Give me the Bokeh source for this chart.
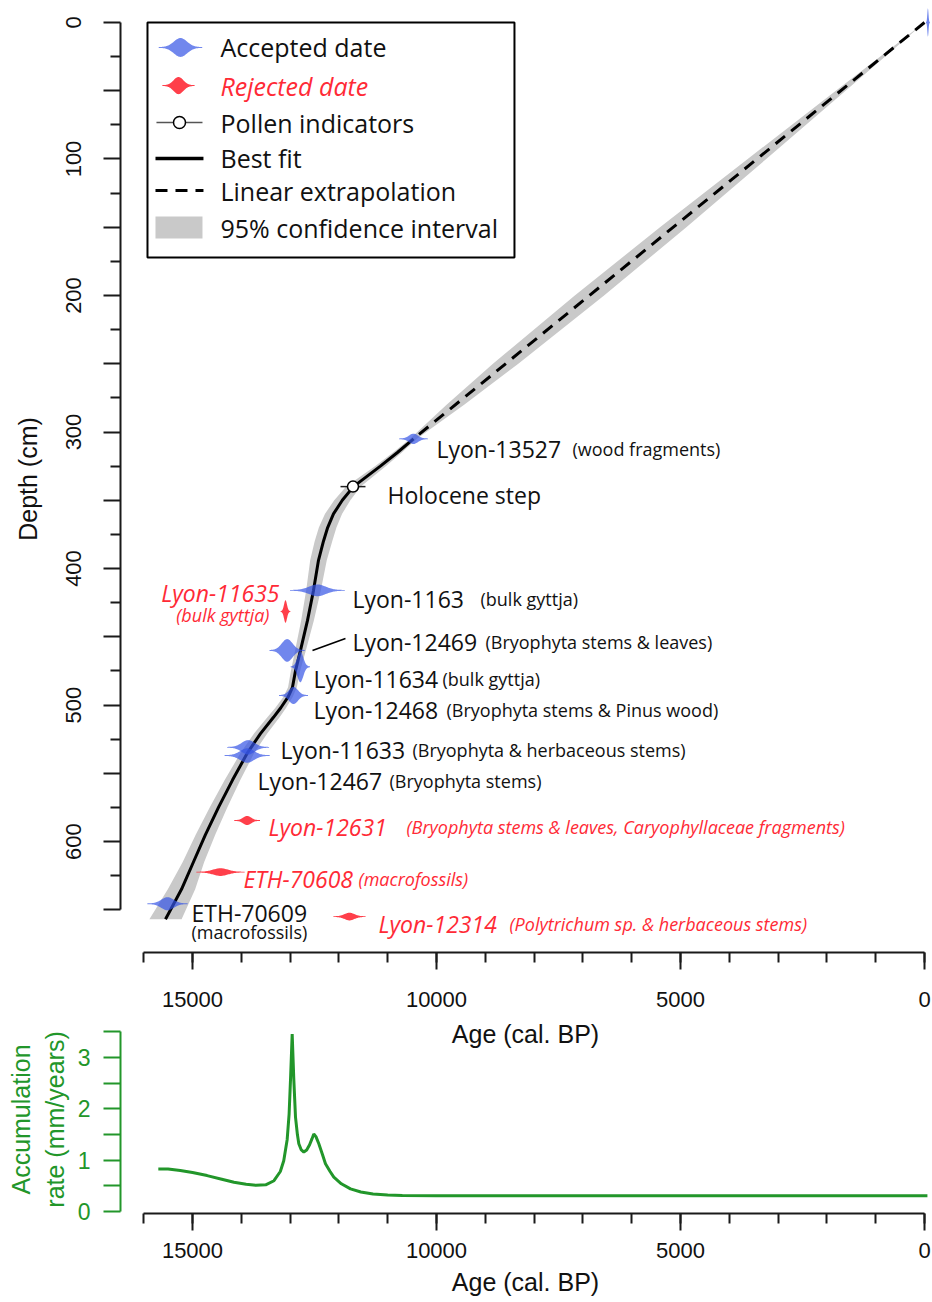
import numpy as np
from bokeh.plotting import figure
from bokeh.models import Range1d, FixedTicker, ColumnDataSource
from bokeh.layouts import column
from bokeh.embed import file_html
from bokeh.resources import INLINE
from bokeh.core.properties import value

# ---------------- data ----------------
age_ticks = [0, 5000, 10000, 15000]
age_minor_ticks = [0, 1000, 2000, 3000, 4000, 5000, 6000, 7000, 8000, 9000, 10000,
                   11000, 12000, 13000, 14000, 15000, 16000]
depth_ticks = [0, 50, 100, 150, 200, 250, 300, 350, 400, 450, 500, 550, 600, 650]
depth_minor_ticks = [25, 75, 125, 175, 225, 275, 325, 375, 425, 475, 525, 575, 625]
depth_tick_labels = ["0", "", "100", "", "200", "", "300", "", "400", "", "500", "", "600", ""]
rate_ticks = [0, 0.5, 1, 1.5, 2, 2.5, 3, 3.5]
rate_tick_labels = ["0", "", "1", "", "2", "", "3", ""]

# best fit (solid) and linear extrapolation (dashed)
fit_depth = [305, 315, 325, 340, 350, 360, 370, 380, 394, 416, 438, 460, 475, 487, 494,
             502, 509, 521, 535, 555, 575, 595, 615, 635, 657]
fit_age = [10471, 10800, 11150, 11701, 11930, 12111, 12230, 12316, 12418, 12520, 12643,
           12787, 12889, 12951, 13040, 13190, 13340, 13607, 13873, 14180, 14467, 14734,
           14980, 15225, 15553]
extrap_depth = [0, 305]
extrap_age = [0, 10471]

# 95% confidence interval
band_depth = [0, 50, 100, 150, 200, 250, 280, 305, 315, 325, 340, 350, 360, 370, 380, 394,
              416, 438, 460, 475, 487, 494, 502, 509, 521, 535, 555, 575, 595, 615, 635, 657]
band_age_lo = [0, 1617, 3243, 4880, 6566, 8323, 9433, 10401, 10710, 11040, 11551, 11765,
               11936, 12050, 12136, 12248, 12370, 12513, 12677, 12794, 12861, 12945, 13080,
               13215, 13472, 13733, 14020, 14287, 14534, 14760, 14945, 15223]
band_age_hi = [0, 1817, 3623, 5420, 7166, 8843, 9793, 10541, 10890, 11260, 11851, 12095,
               12286, 12410, 12496, 12588, 12670, 12773, 12897, 12984, 13041, 13135, 13300,
               13465, 13742, 14013, 14340, 14647, 14934, 15200, 15505, 15883]

# accepted radiocarbon dates (calibrated): depth (cm), age (cal BP), spread (yr)
acc_names = ["Surface", "Lyon-13527", "Lyon-1163", "Lyon-12469", "Lyon-11634",
             "Lyon-12468", "Lyon-11633", "Lyon-12467", "ETH-70609"]
acc_depth = [0, 305, 416, 460, 472, 493, 531, 537, 645.6]
acc_age = [-70, 10471, 12440, 13060, 12790, 12930, 13860, 13880, 15512]
acc_sd = [12, 90, 170, 110, 60, 90, 130, 140, 125]

# rejected dates
rej_names = ["Lyon-11635", "Lyon-12631", "ETH-70608", "Lyon-12314"]
rej_depth = [431.5, 584.6, 622.4, 655]
rej_age = [13094, 13880, 14426, 11783]
rej_sd = [30, 80, 150, 100]

# pollen indicator
pollen_name = ["Holocene step"]
pollen_depth = [340]
pollen_age = [11711]
pollen_err = [256]

# accumulation rate (mm/yr) vs age
acc_rate_age = [15700, 15500, 15250, 15000, 14700, 14400, 14150, 13900, 13700, 13500, 13330,
                13200, 13130, 13060, 13020, 12990, 12957, 12925, 12889, 12850, 12821, 12770,
                12719, 12660, 12600, 12550, 12514, 12470, 12411, 12340, 12275, 12180, 12104,
                11950, 11762, 11550, 11300, 11000, 10700, 10000, 8000, 5000, 2000, -60]
acc_rate = [0.83, 0.83, 0.80, 0.76, 0.70, 0.63, 0.57, 0.53, 0.51, 0.52, 0.60,
            0.78, 0.99, 1.40, 1.90, 2.60, 3.46, 2.60, 1.84, 1.50, 1.32, 1.20,
            1.16, 1.20, 1.30, 1.42, 1.51, 1.46, 1.32, 1.12, 0.93, 0.78, 0.67,
            0.54, 0.44, 0.38, 0.34, 0.32, 0.31, 0.305, 0.305, 0.305, 0.305, 0.305]

# label texts
acc_lab_name = ["Lyon-13527", "Lyon-1163", "Lyon-12469", "Lyon-11634", "Lyon-12468",
                "Lyon-11633", "Lyon-12467", "ETH-70609"]
acc_lab_mat = ["(wood fragments)", "(bulk gyttja)", "(Bryophyta stems & leaves)",
               "(bulk gyttja)", "(Bryophyta stems & Pinus wood)",
               "(Bryophyta & herbaceous stems)", "(Bryophyta stems)", "(macrofossils)"]
rej_lab_name = ["Lyon-11635", "Lyon-12631", "ETH-70608", "Lyon-12314"]
rej_lab_mat = ["(bulk gyttja)", "(Bryophyta stems & leaves, Caryophyllaceae fragments)",
               "(macrofossils)", "(Polytrichum sp. & herbaceous stems)"]
legend_labels = ["Accepted date", "Rejected date", "Pollen indicators", "Best fit",
                 "Linear extrapolation", "95% confidence interval"]

# ---------------- layout / style ----------------
BLUE = "#3454e6"
RED = "#ff2a36"
GREEN = "#22962a"
GREY = "#c9c9c9"
TXT = "Open Sans"
AX = "Liberation Sans"

acc_half_h = [10, 3.5, 4, 8, 11, 6, 5, 5, 4.5]   # glyph half-height (cm)
rej_half_h = [8, 3, 2.5, 2.5]

acc_name_pos = [(10000, 312.1), (11721, 422.0), (11721, 454.2), (12520, 481.3),
                (12520, 503.3), (13197, 533.3), (13668, 556.0), (15020, 652.0)]
acc_mat_pos = [(7213, 312.1), (9098, 422.0), (8996, 454.2), (9877, 481.3),
               (9795, 503.3), (10492, 533.3), (10963, 556.0), (15020, 666.5)]
rej_name_pos = [(13217, 418.3), (13443, 589.7), (13955, 627.8), (11189, 660.1)]
rej_mat_pos = [(13422, 433.7), (10615, 589.7), (11598, 627.8), (8504, 660.1)]
rej_align = ["right", "left", "left", "left"]
pollen_lab_pos = (11004, 346.5)
leader = ([12541, 11865], [460.1, 451.3])


def density_outline(a, d, sd, h):
    t = np.linspace(-3.3, 3.3, 61)
    f = np.exp(-0.5 * t * t)
    xa = a + t * sd
    xs = np.concatenate([xa, xa[::-1]])
    ys = np.concatenate([d - h * f - 0.3, (d + h * f + 0.3)[::-1]])
    return list(xs), list(ys)


def style_axis(ax, color="#1a1a1a"):
    ax.axis_line_color = color
    ax.axis_line_width = 2
    ax.major_tick_line_color = color
    ax.major_tick_line_width = 2
    ax.minor_tick_line_color = color
    ax.minor_tick_line_width = 2
    ax.major_tick_in = 0
    ax.minor_tick_in = 0
    ax.major_tick_out = 17
    ax.minor_tick_out = 10
    ax.major_label_text_font = AX
    ax.major_label_text_font_size = "22px"
    ax.major_label_text_color = "#111111" if color == "#1a1a1a" else color
    ax.axis_label_text_font = AX
    ax.axis_label_text_font_size = "25px"
    ax.axis_label_text_font_style = "normal"
    ax.axis_label_text_color = "#111111" if color == "#1a1a1a" else color


# ---------------- main figure ----------------
p = figure(width=932, height=1057, x_range=Range1d(16475, -123), y_range=Range1d(681.3, -12.45),
           output_backend="svg", toolbar_location=None,
           min_border_left=120, min_border_right=2, min_border_top=5, min_border_bottom=105)
p.xgrid.visible = False
p.ygrid.visible = False
p.outline_line_color = None

style_axis(p.xaxis[0])
p.xaxis.ticker = FixedTicker(ticks=age_ticks, minor_ticks=age_minor_ticks)
p.xaxis.bounds = (0, 16000)
p.xaxis.major_label_overrides = {t: str(t) for t in age_ticks}
p.xaxis.major_label_standoff = 22
p.xaxis.axis_label = "Age (cal. BP)"
p.xaxis.axis_label_standoff = 10

style_axis(p.yaxis[0])
p.yaxis.ticker = FixedTicker(ticks=depth_ticks, minor_ticks=depth_minor_ticks)
p.yaxis.bounds = (0, 650)
p.yaxis.major_label_overrides = dict(zip(depth_ticks, depth_tick_labels))
p.yaxis.major_label_orientation = "vertical"
p.yaxis.major_label_standoff = 22
p.yaxis.axis_label = "Depth (cm)"
p.yaxis.axis_label_standoff = 22

# confidence band
p.harea(y=band_depth, x1=band_age_lo, x2=band_age_hi, fill_color=GREY, fill_alpha=1.0)
# lines
p.line(extrap_age, extrap_depth, line_color="black", line_width=3, line_dash="12 8")
p.line(fit_age, fit_depth, line_color="black", line_width=3)
p.line(leader[0], leader[1], line_color="black", line_width=1.6)

# date densities
axs, ays = [], []
for a, d, s, h in zip(acc_age, acc_depth, acc_sd, acc_half_h):
    xs, ys = density_outline(a, d, s, h)
    axs.append(xs)
    ays.append(ys)
p.patches(axs, ays, fill_color=BLUE, fill_alpha=0.7, line_color=None)
rxs, rys = [], []
for a, d, s, h in zip(rej_age, rej_depth, rej_sd, rej_half_h):
    xs, ys = density_outline(a, d, s, h)
    rxs.append(xs)
    rys.append(ys)
p.patches(rxs, rys, fill_color=RED, fill_alpha=0.9, line_color=None)

# pollen indicator
p.segment(x0=[a - e for a, e in zip(pollen_age, pollen_err)], y0=pollen_depth,
          x1=[a + e for a, e in zip(pollen_age, pollen_err)], y1=pollen_depth,
          line_color="#222222", line_width=1.5)
p.scatter(pollen_age, pollen_depth, size=11, marker="circle", fill_color="white",
          line_color="black", line_width=1.5)

# labels
def add_text(xy, texts, size, color="#111111", style="normal", align="left"):
    src = ColumnDataSource(dict(x=[q[0] for q in xy], y=[q[1] for q in xy], t=texts,
                                al=align if isinstance(align, list) else [align] * len(texts)))
    p.text(x="x", y="y", text="t", source=src, text_font=value(TXT), text_font_size=size,
           text_color=color, text_font_style=style, text_align="al",
           text_baseline="alphabetic")

add_text(acc_name_pos, acc_lab_name, "23px")
add_text(acc_mat_pos, acc_lab_mat, "18px")
add_text(rej_name_pos, rej_lab_name, "23px", RED, "italic", rej_align)
add_text(rej_mat_pos, rej_lab_mat, "18px", RED, "italic", rej_align)
add_text([pollen_lab_pos], pollen_name, "23px")

# legend (box in data units)
LEG_L, LEG_R, LEG_T, LEG_B = 15922, 8402, 0, 172.2
p.quad(left=[LEG_L], right=[LEG_R], top=[LEG_T], bottom=[LEG_B], fill_color="white",
       line_color="black", line_width=2)
row_y = [18.3, 46.2, 73.3, 99.6, 123.1, 150.2]
sym_x = 15246
line_x0, line_x1 = 15758, 14775
lx, ly = density_outline(sym_x, row_y[0], 135, 6.6)
p.patch(lx, ly, fill_color=BLUE, fill_alpha=0.7, line_color=None)
lx, ly = density_outline(15287, row_y[1], 100, 6.0)
p.patch(lx, ly, fill_color=RED, fill_alpha=0.9, line_color=None)
p.segment(x0=[15738], y0=[row_y[2]], x1=[14795], y1=[row_y[2]], line_color="#555555", line_width=1.5)
p.scatter([15266], [row_y[2]], size=12, marker="circle", fill_color="white", line_color="black",
          line_width=1.5)
p.segment(x0=[line_x0], y0=[row_y[3]], x1=[line_x1], y1=[row_y[3]], line_color="black", line_width=3.5)
p.segment(x0=[line_x0], y0=[row_y[4]], x1=[line_x1], y1=[row_y[4]], line_color="black",
          line_width=3, line_dash="12 8")
p.quad(left=[15758], right=[14795], top=[142.1], bottom=[158.2], fill_color=GREY, line_color=None)
leg_src = ColumnDataSource(dict(x=[14426] * 6, y=row_y, t=legend_labels,
                                c=["#111111", RED, "#111111", "#111111", "#111111", "#111111"],
                                s=["normal", "italic", "normal", "normal", "normal", "normal"]))
p.text(x="x", y="y", text="t", source=leg_src, text_font=value(TXT), text_font_size="25px",
       text_color="c", text_font_style="s", text_baseline="middle", text_align="left")

# ---------------- accumulation rate figure ----------------
p2 = figure(width=932, height=280, x_range=Range1d(16475, -123), y_range=Range1d(-0.039, 3.626),
            output_backend="svg", toolbar_location=None,
            min_border_left=120, min_border_right=2, min_border_top=3, min_border_bottom=89,
            border_fill_color=None, background_fill_color=None)
p2.margin = (-35, 0, 0, 0)
p2.xgrid.visible = False
p2.ygrid.visible = False
p2.outline_line_color = None

style_axis(p2.xaxis[0])
p2.xaxis.ticker = FixedTicker(ticks=age_ticks, minor_ticks=age_minor_ticks)
p2.xaxis.bounds = (0, 16000)
p2.xaxis.major_label_overrides = {t: str(t) for t in age_ticks}
p2.xaxis.major_label_standoff = 12
p2.xaxis.axis_label = "Age (cal. BP)"
p2.xaxis.axis_label_standoff = 7

style_axis(p2.yaxis[0], GREEN)
p2.yaxis.ticker = FixedTicker(ticks=rate_ticks)
p2.yaxis.bounds = (0, 3.5)
p2.yaxis.major_label_overrides = dict(zip(rate_ticks, rate_tick_labels))
p2.yaxis.major_label_orientation = "horizontal"
p2.yaxis.major_label_standoff = 13
p2.yaxis.major_label_text_font_size = "23px"
p2.yaxis.axis_label = "Accumulation\nrate (mm/years)"
p2.yaxis.axis_label_standoff = 6

p2.line(acc_rate_age, acc_rate, line_color=GREEN, line_width=3)

layout = column(p, p2)
open("out.html", "w").write(file_html(layout, INLINE))
